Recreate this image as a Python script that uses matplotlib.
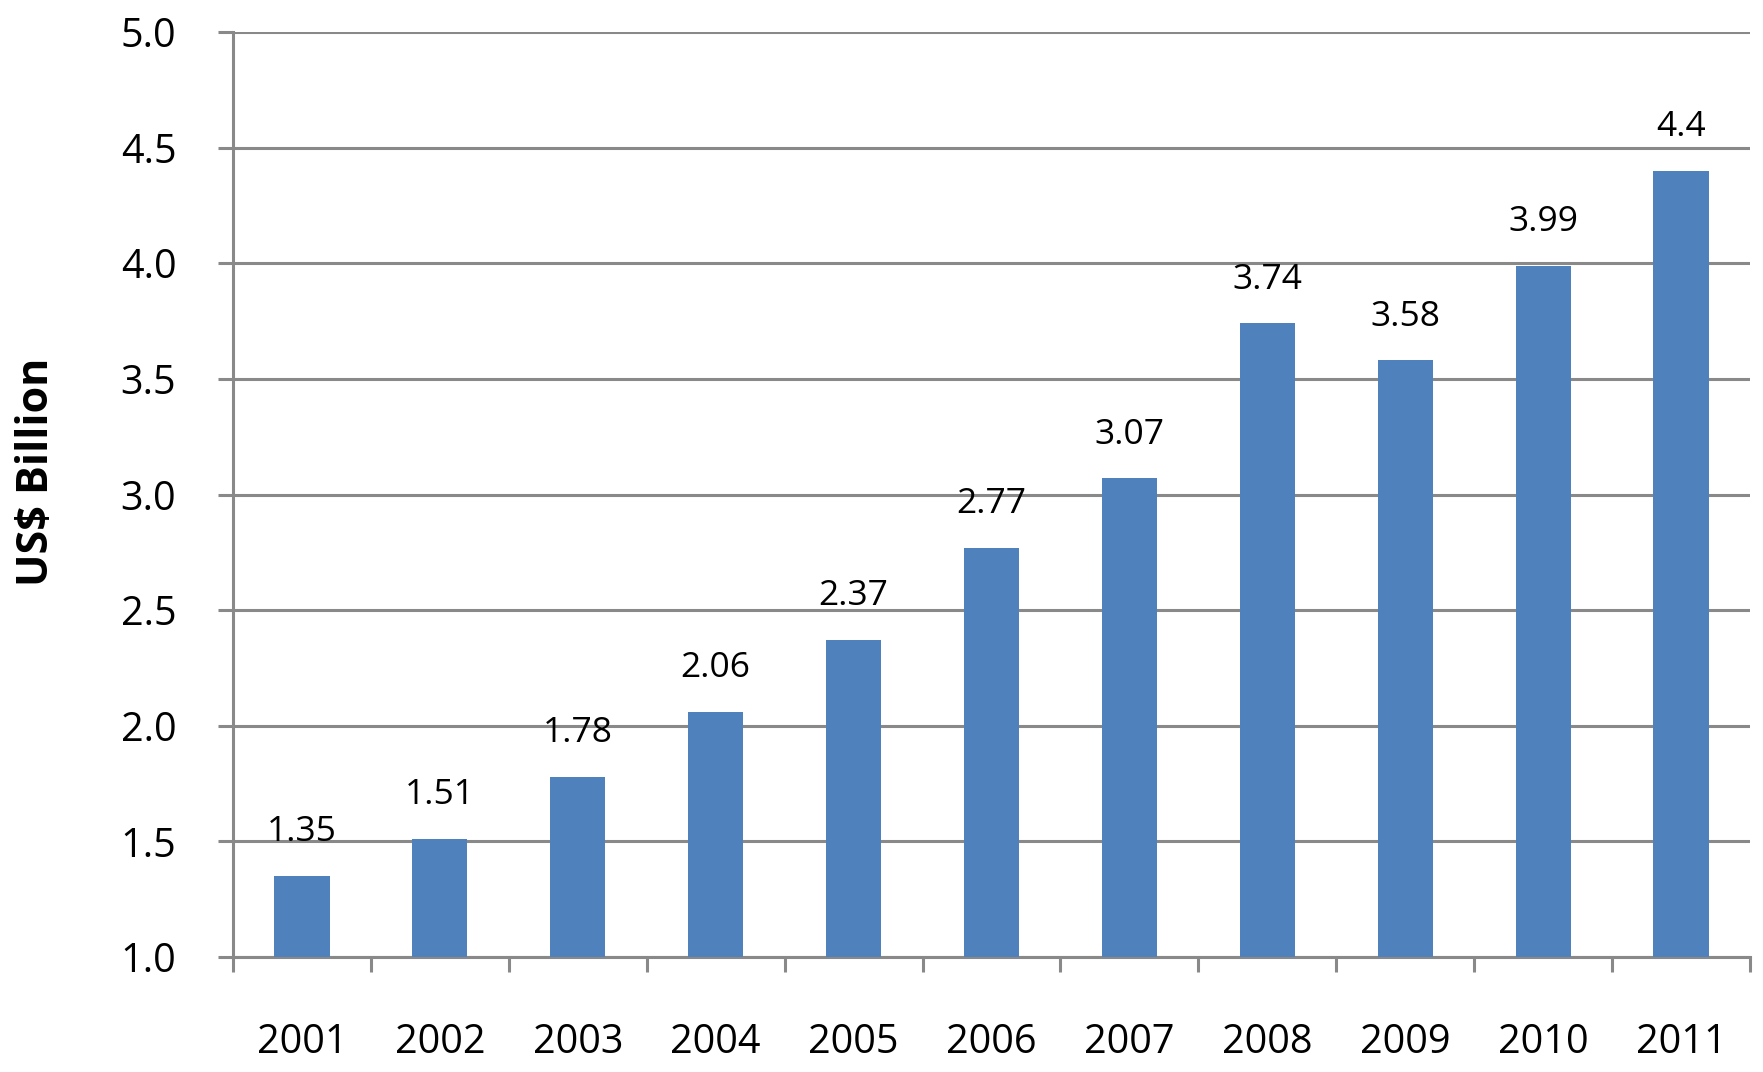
import matplotlib
matplotlib.use("Agg")
import matplotlib.pyplot as plt
import numpy as np
from matplotlib.ticker import FixedLocator

years = ['2001', '2002', '2003', '2004', '2005', '2006', '2007', '2008', '2009', '2010', '2011']
values = [1.35, 1.51, 1.78, 2.06, 2.37, 2.77, 3.07, 3.74, 3.58, 3.99, 4.4]
value_labels = ['1.35', '1.51', '1.78', '2.06', '2.37', '2.77', '3.07', '3.74', '3.58', '3.99', '4.4']
y_ticks = [1.0, 1.5, 2.0, 2.5, 3.0, 3.5, 4.0, 4.5, 5.0]

plt.rcParams['font.family'] = ['Open Sans', 'DejaVu Sans']
grey = '#898989'
bar_color = '#4F81BD'

fig = plt.figure(figsize=(17.63, 10.72), dpi=100)
ax = fig.add_axes([233/1763, 1 - 957/1072, (1750 - 233)/1763, (957 - 32)/1072])

x = np.arange(len(years))
ax.bar(x, values, width=0.4, color=bar_color, zorder=3)

# value labels above each bar
for xi, v, lab in zip(x, values, value_labels):
    ax.annotate(lab, (xi, v), xytext=(0, 25), textcoords='offset points',
                ha='center', va='baseline', fontsize=25.5, color='black')

ax.set_xlim(-0.5, len(years) - 0.5)
ax.set_ylim(1.0, 5.0)
ax.set_yticks(y_ticks)
ax.set_yticklabels([f'{t:.1f}' for t in y_ticks])
ax.set_xticks(x)
ax.set_xticklabels(years)
ax.xaxis.set_minor_locator(FixedLocator(np.arange(-0.5, len(years), 1.0)))

ax.grid(axis='y', color=grey, linewidth=2.2, zorder=0)
ax.set_axisbelow(True)
for s in ['top', 'right']:
    ax.spines[s].set_visible(False)
for s in ['left', 'bottom']:
    ax.spines[s].set_color(grey)
    ax.spines[s].set_linewidth(2.2)

ax.tick_params(axis='y', which='major', length=10.8, width=2.2, color=grey,
               labelsize=28.5, pad=30)
ax.tick_params(axis='x', which='major', length=0, labelsize=28.5, pad=47)
ax.tick_params(axis='x', which='minor', length=10.8, width=2.2, color=grey)

ax.set_ylabel('US$ Billion', fontsize=31, fontweight='bold')
ax.yaxis.set_label_coords(-(233 - 58)/1517, (957 - 472)/925)

fig.savefig('out.png', dpi=100, facecolor='white')
